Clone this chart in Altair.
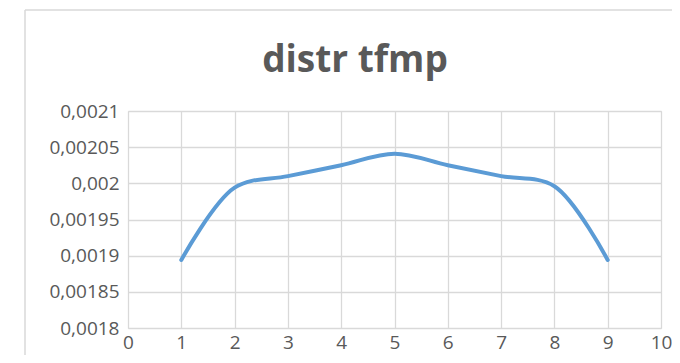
import altair as alt
import pandas as pd

# data
xs = [1, 2, 3, 4, 5, 6, 7, 8, 9]
vals = [0.001894, 0.001994, 0.002010, 0.002025, 0.002041, 0.002025, 0.002010, 0.001996, 0.001894]
y_ticks = [0.0018, 0.00185, 0.0019, 0.00195, 0.002, 0.00205, 0.0021]
x_ticks = [0, 1, 2, 3, 4, 5, 6, 7, 8, 9, 10]
title_text = "distr tfmp"

df = pd.DataFrame({"x": xs, "v": vals})

GRID = "#d9d9d9"
TEXT = "#595959"
FONT = "Open Sans"

W, H = 533, 217

line = alt.Chart(df).mark_line(
    color="#5b9bd5", strokeWidth=4, interpolate="catmull-rom", strokeCap="round"
).encode(
    x=alt.X("x:Q", scale=alt.Scale(domain=[0, 10], nice=False),
            axis=alt.Axis(values=x_ticks, title=None, grid=True, gridColor=GRID,
                          gridWidth=1.3, domain=False, ticks=False,
                          labelFontSize=19, labelColor=TEXT, labelFont=FONT,
                          labelPadding=5, labelFlush=False)),
    y=alt.Y("v:Q", scale=alt.Scale(domain=[0.0018, 0.0021], nice=False, zero=False),
            axis=alt.Axis(values=y_ticks, title=None, grid=True, gridColor=GRID,
                          gridWidth=1.3, domain=False, ticks=False,
                          labelFontSize=19, labelColor=TEXT, labelFont=FONT,
                          labelPadding=9,
                          labelExpr="replace(toString(datum.value), '.', ',')")),
)

frame_left = alt.Chart(alt.Data(values=[{}])).mark_rule(color=GRID, strokeWidth=1.5).encode(
    x=alt.value(-103), y=alt.value(-101), y2=alt.value(H + 60)
)
frame_top = alt.Chart(alt.Data(values=[{}])).mark_rule(color=GRID, strokeWidth=1.5).encode(
    x=alt.value(-103), x2=alt.value(W + 60), y=alt.value(-101)
)
title = alt.Chart(alt.Data(values=[{"t": title_text}])).mark_text(
    font=FONT, fontSize=37, fontWeight="bold", color=TEXT,
    align="center", baseline="alphabetic"
).encode(text="t:N", x=alt.value(227), y=alt.value(-39))

chart = alt.layer(frame_left, frame_top, title, line).properties(
    width=W, height=H,
    autosize=alt.AutoSizeParams(type="none"),
    padding={"left": 120, "top": 103, "right": 11, "bottom": 27},
).configure_view(stroke=None).configure(background="white")

chart.save("out.html", embed_options={"renderer": "svg", "actions": False})
